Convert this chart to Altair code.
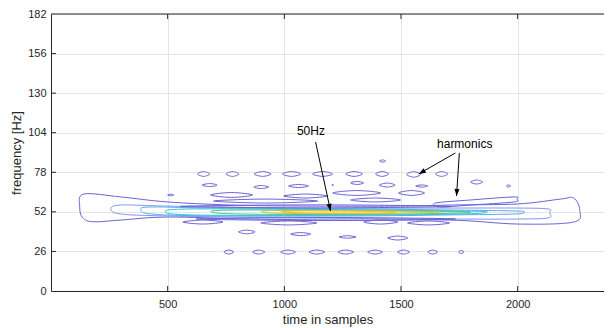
import math
import altair as alt
import pandas as pd

# ---------------- data ----------------
x_ticks = [500, 1000, 1500, 2000]
y_ticks = [0, 26, 52, 78, 104, 130, 156, 182]
T_MAX = 2370
F_MAX = 182

# contour levels and their colours (parula-like)
levels = [1, 2, 3, 4, 5, 6, 7]
level_colors = ["#6b62d4", "#8294f0", "#55aaf2", "#2fc3d8", "#4cc28c", "#bcc83a", "#f5bf1e"]

# main 50 Hz band: nested closed contours (time in samples, frequency in Hz)
c1_t = [123, 140, 299, 500, 770, 1070, 1498, 1713, 2000, 2184, 2240, 2266, 2240, 2000, 1713, 1284, 856, 500, 299, 183, 136]
c1_f = [55.4, 63.7, 61.8, 58.5, 56.5, 55.8, 55.8, 56.5, 57.2, 60.4, 61.1, 53.2, 45.3, 44.0, 46.6, 46.6, 47.3, 48.6, 46.6, 45.5, 48.0]
c2_t = [256, 299, 500, 1070, 1713, 2000, 2130, 2137, 2130, 2000, 1713, 1070, 500, 299]
c2_f = [53.9, 56.5, 55.8, 54.5, 54.5, 54.5, 53.9, 51.5, 48.0, 47.3, 47.3, 48.0, 49.3, 50.6]
c3_t = [385, 430, 700, 1300, 1713, 1990, 2026, 1990, 1713, 1300, 700, 430]
c3_f = [53.7, 55.2, 54.5, 53.9, 53.2, 52.6, 51.9, 50.6, 50.0, 49.3, 49.3, 50.6]
c4_t = [490, 600, 1200, 1750, 1870, 1750, 1200, 600]
c4_f = [52.2, 53.9, 53.5, 52.6, 51.9, 50.6, 49.7, 50.0]
c5_t = [685, 800, 1300, 1700, 1800, 1700, 1300, 800]
c5_f = [52.2, 53.2, 52.9, 52.2, 51.9, 51.0, 50.3, 50.6]
c6_t = [900, 1000, 1400, 1670, 1400, 1000]
c6_f = [52.2, 52.9, 52.6, 52.0, 50.9, 51.0]
c7_t = [985, 1100, 1400, 1477, 1400, 1100]
c7_f = [52.0, 52.6, 52.3, 51.9, 51.2, 51.3]
# tilted harmonic contour pointed at by the lower "harmonics" arrow
c8_t = [1648, 1798, 1983, 1996, 1983, 1798, 1670]
c8_f = [57.8, 59.8, 61.8, 60.4, 58.5, 56.5, 55.2]

contours = [
    ("c1", 1, c1_t, c1_f), ("c2", 2, c2_t, c2_f), ("c3", 3, c3_t, c3_f),
    ("c4", 4, c4_t, c4_f), ("c5", 5, c5_t, c5_f), ("c6", 6, c6_t, c6_f),
    ("c7", 7, c7_t, c7_f), ("c8", 1, c8_t, c8_f),
]

# small harmonic islands: centre time, centre freq, half-width (samples), half-height (Hz)
blob_t = [654, 778, 907, 1031, 1164, 1299, 1419, 1554, 1674, 1824, 1961, 1421,
          680, 901, 1061, 1207, 1312, 1441, 1589, 513,
          774, 1091, 1310, 1545, 920, 1391, 1135, 1178,
          651, 1019, 1413, 1618,
          839, 1070, 1271, 1486,
          762, 890, 1016, 1139, 1263, 1389, 1511, 1636, 1758]
blob_f = [76.9, 76.9, 76.9, 76.9, 76.9, 76.9, 76.9, 76.6, 76.9, 71.6, 69.0, 85.4,
          69.6, 68.3, 69.0, 69.6, 71.0, 69.6, 69.0, 63.1,
          63.1, 62.4, 64.4, 64.4, 59.1, 59.8, 55.6, 47.3,
          45.3, 44.7, 45.3, 44.7,
          38.8, 37.4, 35.5, 34.8,
          25.6, 25.6, 25.6, 25.6, 25.6, 25.6, 25.6, 25.6, 25.6]
blob_dt = [26, 28, 36, 39, 43, 36, 28, 30, 26, 26, 9, 13,
           32, 32, 43, 4, 28, 34, 26, 13,
           90, 94, 103, 56, 223, 107, 580, 556,
           86, 120, 73, 90,
           36, 43, 36, 43,
           21, 26, 32, 34, 34, 32, 26, 21, 11]
blob_df = [1.6, 1.6, 1.6, 1.6, 1.6, 1.6, 1.6, 1.8, 1.6, 1.3, 0.7, 0.7,
           1.0, 1.0, 1.0, 0.4, 1.0, 1.3, 0.7, 0.5,
           1.6, 1.3, 1.6, 1.6, 1.3, 1.3, 1.0, 1.0,
           1.3, 1.3, 1.3, 1.3,
           1.2, 1.0, 0.8, 1.3,
           1.3, 1.3, 1.3, 1.3, 1.3, 1.3, 1.3, 1.3, 1.0]

# annotations
ann_text = ["50Hz", "harmonics"]
ann_t = [1114, 1773]
ann_f = [105.0, 96.6]
arrow_t0 = [1134, 1733, 1750]
arrow_f0 = [97.9, 90.7, 90.7]
arrow_t1 = [1198, 1576, 1738]
arrow_f1 = [52.6, 76.9, 62.4]

# ---------------- build tables ----------------
W, H = 553, 277
rows = []
for name, lvl, ts, fs in contours:
    for i, (t, f) in enumerate(zip(ts, fs)):
        rows.append({"id": name, "level": lvl, "i": i, "t": t, "f": f})
for k, (t, f, dt, df_) in enumerate(zip(blob_t, blob_f, blob_dt, blob_df)):
    pts = [(t - dt, f), (t, f + df_), (t + dt, f), (t, f - df_)]
    for i, (pt, pf) in enumerate(pts):
        rows.append({"id": f"b{k}", "level": 1, "i": i, "t": pt, "f": pf})
cdf = pd.DataFrame(rows)

arr = pd.DataFrame({"t": arrow_t0, "f": arrow_f0, "t2": arrow_t1, "f2": arrow_f1})
angles = []
for t0, f0, t1, f1 in zip(arrow_t0, arrow_f0, arrow_t1, arrow_f1):
    sx = (t1 - t0) * W / T_MAX
    sy = -(f1 - f0) * H / F_MAX
    angles.append(math.degrees(math.atan2(sx, -sy)) % 360)
heads = pd.DataFrame({"t": arrow_t1, "f": arrow_f1, "ang": angles})
ann = pd.DataFrame({"t": ann_t, "f": ann_f, "label": ann_text})
xt = pd.DataFrame({"t": x_ticks})
yt = pd.DataFrame({"f": y_ticks[1:-1]})
one = pd.DataFrame({"a": [0]})

FONT = "Liberation Sans"
INK = "#262626"

xscale = alt.Scale(domain=[0, T_MAX], nice=False, zero=False)
yscale = alt.Scale(domain=[0, F_MAX], nice=False, zero=False)
xaxis = alt.Axis(values=x_ticks, title="time in samples", grid=True, ticks=False, tickSize=0,
                 labelPadding=7, titlePadding=4, format="d")
yaxis = alt.Axis(values=y_ticks, title="frequency [Hz]", grid=True, ticks=False, tickSize=0,
                 labelPadding=5, titlePadding=4, format="d")


def X(field="t"):
    return alt.X(f"{field}:Q", scale=xscale, axis=xaxis)


def Y(field="f"):
    return alt.Y(f"{field}:Q", scale=yscale, axis=yaxis)


lines = alt.Chart(cdf).mark_line(interpolate="cardinal-closed", strokeWidth=1, clip=True).encode(
    x=X(), y=Y(), detail="id:N", order="i:Q",
    color=alt.Color("level:O", scale=alt.Scale(domain=levels, range=level_colors), legend=None),
)

arrow_lines = alt.Chart(arr).mark_rule(color="black", strokeWidth=1).encode(
    x=X(), y=Y(), x2="t2:Q", y2="f2:Q")

arrow_heads = alt.Chart(heads).mark_point(
    shape="M0,0 L-0.36,1 L0.36,1 Z", filled=True, size=200, color="black", opacity=1, strokeWidth=0
).encode(x=X(), y=Y(), angle=alt.Angle("ang:Q", scale=None))

labels = alt.Chart(ann).mark_text(font=FONT, fontSize=12, color="black").encode(
    x=X(), y=Y(), text="label:N")

bottom_ticks = alt.Chart(xt).mark_rule(color=INK, strokeWidth=1).encode(
    x=X(), y=alt.value(H), y2=alt.value(H - 5))
top_ticks = alt.Chart(xt).mark_rule(color=INK, strokeWidth=1).encode(
    x=X(), y=alt.value(0), y2=alt.value(5))
left_ticks = alt.Chart(yt).mark_rule(color=INK, strokeWidth=1).encode(
    y=Y(), x=alt.value(0), x2=alt.value(5))
top_border = alt.Chart(one).mark_rule(color=INK, strokeWidth=1).encode(
    x=alt.value(0), x2=alt.value(W), y=alt.value(0))

chart = alt.layer(
    lines, arrow_lines, arrow_heads, labels, bottom_ticks, top_ticks, left_ticks, top_border
).properties(
    width=W, height=H,
    autosize=alt.AutoSizeParams(type="none"),
    padding={"left": 43, "top": 6, "right": 0, "bottom": 37},
).configure_view(stroke=None).configure_axis(
    labelFont=FONT, labelFontSize=11, labelColor=INK,
    titleFont=FONT, titleFontSize=13, titleFontWeight="normal", titleColor=INK,
    gridColor="#e6e6e6", gridWidth=1, domainColor=INK, domainWidth=1,
)

chart.save("out.html", embed_options={"renderer": "svg", "actions": False})
